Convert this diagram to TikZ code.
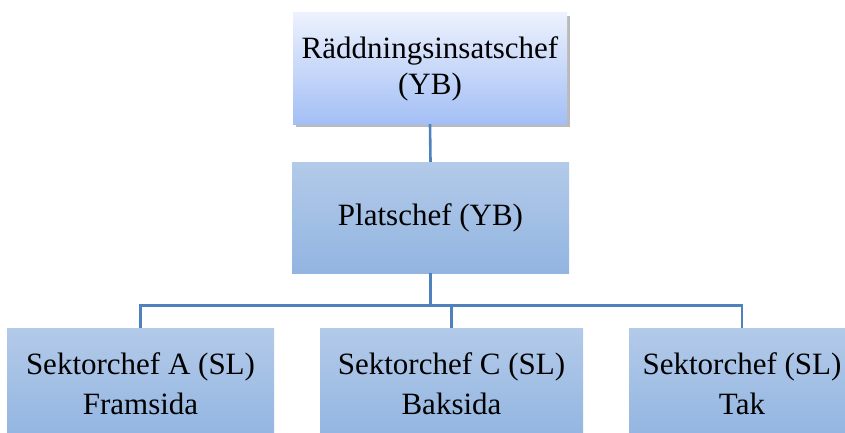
\documentclass[tikz,border=0pt]{standalone}
\usepackage{fontspec}
\setmainfont{Liberation Serif}
\usetikzlibrary{shadows,calc}

\definecolor{chefTop}{RGB}{236,241,253}
\definecolor{chefBottom}{RGB}{163,191,245}
\definecolor{boxTop}{RGB}{179,202,233}
\definecolor{boxBottom}{RGB}{146,181,225}
\definecolor{lineBlue}{RGB}{79,129,189}

\begin{document}
\begin{tikzpicture}[x=1pt,y=1pt,
						every node/.style={
						inner sep=0pt,align=center,
						font=\fontsize{31}{36}\selectfont},
						chef/.style={
						top color=chefTop,bottom color=chefBottom,
						drop shadow={shadow xshift=3pt,shadow yshift=-3pt,
						fill=black!45,opacity=.6},
						minimum width=274pt,minimum height=111pt},
						unit/.style={
						top color=boxTop,bottom color=boxBottom,
						minimum height=111pt},
						link/.style={draw=lineBlue,line width=2.6pt}]

		\useasboundingbox (0,0) rectangle (845,432);

		\node [chef] (ric) at (430,363.5) {Räddningsinsatschef\\(YB)};
		\node [unit,minimum width=277pt] (plats) at (430.5,214.5) {Platschef (YB)};

		\node [unit,minimum width=267pt,minimum height=112pt,
				font=\fontsize{31}{40}\selectfont] (secA) at (140.5,48) {Sektorchef A (SL)\\Framsida};
		\node [unit,minimum width=263pt,minimum height=112pt,
				font=\fontsize{31}{40}\selectfont] (secC) at (451.5,48) {Sektorchef C (SL)\\Baksida};
		\node [unit,minimum width=226pt,minimum height=112pt,
				font=\fontsize{31}{40}\selectfont] (secT) at (742,48) {Sektorchef (SL)\\Tak};

		\coordinate (bus) at ($(plats.south)+(0,-32)$);

		\draw [link] (ric.south) -- (plats.north);
		\draw [link] (plats.south) -- (bus);
		\draw [link] (bus) -| (secA.north);
		\draw [link] (bus) -| (secC.north);
		\draw [link] (bus) -| (secT.north);

	\end{tikzpicture}
\end{document}
